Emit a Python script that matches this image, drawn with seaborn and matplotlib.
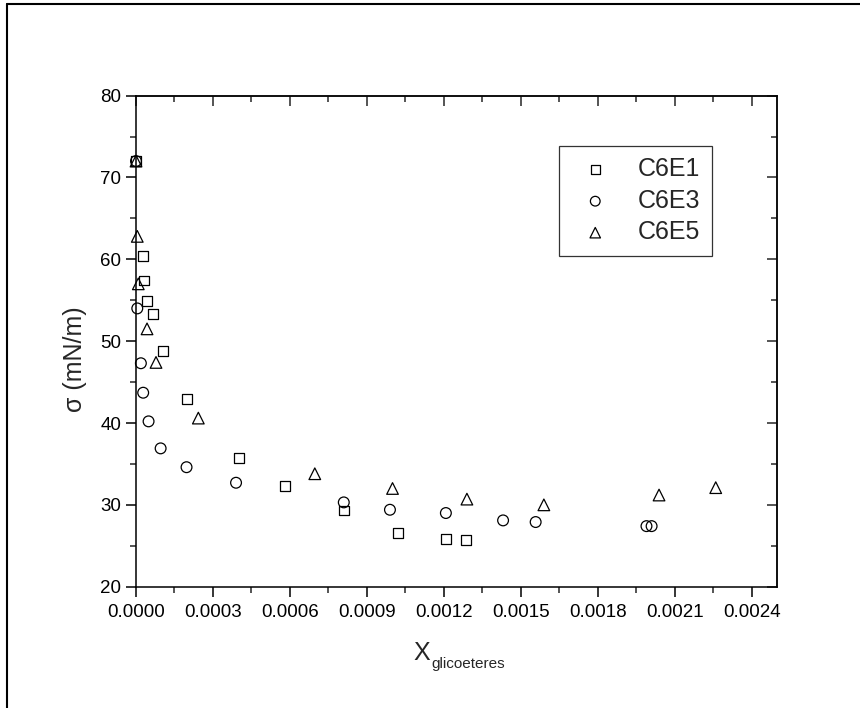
import numpy as np
import pandas as pd
import matplotlib
matplotlib.use("Agg")
import matplotlib.pyplot as plt
from matplotlib.ticker import MultipleLocator, FormatStrFormatter
from matplotlib.lines import Line2D
import seaborn as sns

# Surface tension vs. glycol-ether mole fraction
c6e1_x = [0.0, 0.000028, 0.000032, 0.000044, 0.000065, 0.000106, 0.00020, 0.00040,
          0.00058, 0.00081, 0.00102, 0.001208, 0.001288]
c6e1_y = [72.0, 60.4, 57.4, 54.9, 53.3, 48.8, 42.9, 35.7, 32.3, 29.3, 26.6, 25.8, 25.7]

c6e3_x = [0.0, 0.000005, 0.000019, 0.000028, 0.000049, 0.000096, 0.000197, 0.00039,
          0.00081, 0.00099, 0.001208, 0.001431, 0.001558, 0.00199, 0.00201]
c6e3_y = [72.0, 54.0, 47.3, 43.7, 40.2, 36.9, 34.6, 32.7, 30.3, 29.4, 29.0, 28.1, 27.9,
          27.4, 27.4]

c6e5_x = [0.0, 0.000005, 0.000009, 0.000043, 0.000078, 0.000243, 0.000697, 0.00100,
          0.00129, 0.00159, 0.002039, 0.00226]
c6e5_y = [72.0, 62.8, 57.0, 51.5, 47.4, 40.6, 33.8, 32.0, 30.7, 30.0, 31.2, 32.1]

series_names = ["C6E1", "C6E3", "C6E5"]
x_ticks = [0.0, 0.0003, 0.0006, 0.0009, 0.0012, 0.0015, 0.0018, 0.0021, 0.0024]
y_ticks = [20, 30, 40, 50, 60, 70, 80]

df = pd.concat([
    pd.DataFrame({"x": c6e1_x, "y": c6e1_y, "serie": "C6E1"}),
    pd.DataFrame({"x": c6e3_x, "y": c6e3_y, "serie": "C6E3"}),
    pd.DataFrame({"x": c6e5_x, "y": c6e5_y, "serie": "C6E5"}),
], ignore_index=True)

sns.set_style("ticks")
plt.rcParams["font.family"] = ["Liberation Sans", "DejaVu Sans"]

W, H = 860, 708
fig = plt.figure(figsize=(W / 100, H / 100), dpi=100)
left, right, top, bottom = 136, 777.3, 95.6, 586.7
ax = fig.add_axes([left / W, 1 - bottom / H, (right - left) / W, (bottom - top) / H])

markers = {"C6E1": ("s", 50), "C6E3": ("o", 60), "C6E5": ("^", 70)}
for name in series_names:
    m, s = markers[name]
    sns.scatterplot(data=df[df["serie"] == name], x="x", y="y", ax=ax,
                    marker=m, s=s, color="black", facecolor="none",
                    edgecolor="black", linewidth=0.9, label=name,
                    clip_on=False, zorder=3)

ax.set_xlim(0, 0.0025)
ax.set_ylim(20, 80)
ax.set_xticks(x_ticks)
ax.set_yticks(y_ticks)
ax.xaxis.set_major_formatter(FormatStrFormatter("%.4f"))
ax.xaxis.set_minor_locator(MultipleLocator(0.00015))
ax.yaxis.set_minor_locator(MultipleLocator(5))
ax.set_xlabel("")
ax.set_ylabel("")

lw = 1.1
for sp in ax.spines.values():
    sp.set_visible(True)
    sp.set_linewidth(lw)
    sp.set_color("black")

ax.tick_params(which="major", direction="out", length=7.2, width=lw,
               labelsize=13.5, colors="black")
ax.tick_params(axis="x", which="major", pad=5.5)
ax.tick_params(axis="y", which="major", pad=3.5)
ax.tick_params(which="minor", direction="out", length=4.3, width=lw)

# Opposite sides carry inward ticks without labels
top_ax = ax.secondary_xaxis("top")
top_ax.set_xticks(x_ticks)
top_ax.xaxis.set_minor_locator(MultipleLocator(0.00015))
top_ax.tick_params(which="major", direction="in", length=7.2, width=lw, labeltop=False)
top_ax.tick_params(which="minor", direction="in", length=4.3, width=lw)
top_ax.spines["top"].set_linewidth(lw)

right_ax = ax.secondary_yaxis("right")
right_ax.set_yticks(y_ticks)
right_ax.yaxis.set_minor_locator(MultipleLocator(5))
right_ax.tick_params(which="major", direction="in", length=7.2, width=lw, labelright=False)
right_ax.tick_params(which="minor", direction="in", length=4.3, width=lw)
right_ax.spines["right"].set_linewidth(lw)

# Axis titles
fig.text(75 / W, 1 - 359 / H, "σ (mN/m)", rotation=90, ha="center", va="center",
         fontsize=18)
fig.text(413 / W, 1 - 660 / H, "X", ha="left", va="baseline", fontsize=18)
fig.text(431 / W, 1 - 668 / H, "glicoeteres", ha="left", va="baseline", fontsize=11)

leg = ax.legend(loc="upper left", bbox_to_anchor=(559 / W, 1 - 146 / H),
                bbox_transform=fig.transFigure, fontsize=18, frameon=True,
                fancybox=False, borderpad=0.45, labelspacing=0.3,
                handlelength=2.0, handletextpad=0.7, borderaxespad=0.0,
                markerscale=0.9)
leg.get_frame().set_edgecolor("black")
leg.get_frame().set_linewidth(0.9)

# Page frame (left and top edges)
fig.add_artist(Line2D([7 / W, 7 / W], [0, 1 - 4 / H], transform=fig.transFigure,
                      color="black", linewidth=1.5))
fig.add_artist(Line2D([7 / W, 1], [1 - 4 / H, 1 - 4 / H], transform=fig.transFigure,
                      color="black", linewidth=1.5))

fig.savefig("out.png", dpi=100)
